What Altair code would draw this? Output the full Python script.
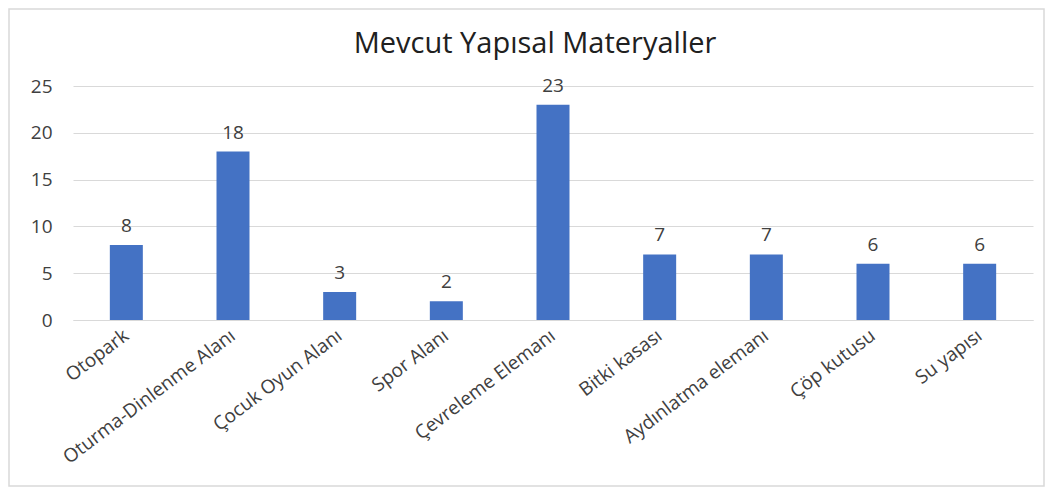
import altair as alt
import pandas as pd

categories = ["Otopark", "Oturma-Dinlenme Alanı", "Çocuk Oyun Alanı", "Spor Alanı",
              "Çevreleme Elemanı", "Bitki kasası", "Aydınlatma elemanı", "Çöp kutusu", "Su yapısı"]
values = [8, 18, 3, 2, 23, 7, 7, 6, 6]
title_text = "Mevcut Yapısal Materyaller"

df = pd.DataFrame({"kategori": categories, "deger": values})

W, H = 960, 234
FONT = "Open Sans"
TXT = "#404040"

x = alt.X("kategori:N", sort=categories, title=None,
          scale=alt.Scale(paddingInner=0.69, paddingOuter=0.345),
          axis=alt.Axis(labelAngle=-37, labelAlign="right", labelBaseline="middle",
                        labelPadding=13, ticks=False, domainColor="#d9d9d9", domainWidth=1.2,
                        labelFont=FONT, labelFontSize=19, labelColor=TXT, labelLimit=300))
y = alt.Y("deger:Q", title=None,
          scale=alt.Scale(domain=[0, 25], nice=False),
          axis=alt.Axis(values=[0, 5, 10, 15, 20, 25], domain=False, ticks=False,
                        gridColor="#d9d9d9", gridWidth=1.2, labelPadding=21,
                        labelFont=FONT, labelFontSize=19, labelColor=TXT))

bars = alt.Chart(df).mark_bar(color="#4472C4", size=33).encode(x=x, y=y)
labels = alt.Chart(df).mark_text(dy=-19, font=FONT, fontSize=19, color=TXT).encode(
    x=alt.X("kategori:N", sort=categories), y="deger:Q", text="deger:Q")

one = pd.DataFrame({"t": [title_text]})
frame = alt.Chart(one).mark_rect(
    fill=None, stroke="#d9d9d9", strokeWidth=1.5).encode(
    x=alt.value(-64), x2=alt.value(W + 11), y=alt.value(-77), y2=alt.value(H + 166))
title = alt.Chart(one).mark_text(font=FONT, fontSize=29, color="#202020",
                                 baseline="alphabetic", align="center").encode(
    x=alt.value(W / 2 - 18), y=alt.value(-33), text="t:N")

chart = alt.layer(frame, bars, labels, title).properties(
    width=W, height=H,
    padding={"left": 65, "top": 78, "right": 12, "bottom": 168},
    autosize=alt.AutoSizeParams(type="none"),
).configure(background="white").configure_view(stroke=None)

chart.save("out.html", embed_options={"renderer": "svg", "actions": False})
